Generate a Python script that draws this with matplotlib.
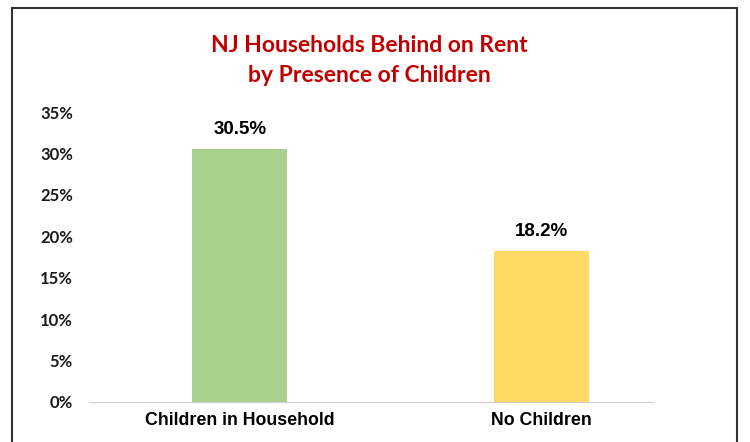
import matplotlib.pyplot as plt
from matplotlib.patches import Rectangle

# NJ households behind on rent, by presence of children
categories = ['Children in Household', 'No Children']
values = [30.5, 18.2]
colors = ['#A9D18E', '#FFD966']
yticks = [0, 5, 10, 15, 20, 25, 30, 35]

fig = plt.figure(figsize=(7.5, 4.42), dpi=100)
ax = fig.add_axes([0.1187, 0.0905, 0.752, 0.656])

x = list(range(len(categories)))
ax.bar(x, values, width=0.315, color=colors, zorder=2)

for xi, v in zip(x, values):
    ax.annotate('{:.1f}%'.format(v), (xi, v), xytext=(0, 8), textcoords='offset points',
                ha='center', va='bottom', fontsize=13.5, fontweight='bold',
                family='Liberation Sans', color='#000000')

ax.set_xlim(-0.5, 1.37)
ax.set_ylim(0, 35)
ax.set_yticks(yticks)
ax.set_yticklabels(['{}%'.format(t) for t in yticks], fontsize=12, fontweight='bold',
                   family='Lato', color='#1a1a1a')
ax.set_xticks(x)
ax.set_xticklabels(categories, fontsize=12.8, fontweight='bold', family='Liberation Sans')

for s in ['top', 'right', 'left']:
    ax.spines[s].set_visible(False)
ax.spines['bottom'].set_color('#d0d0d0')
ax.tick_params(axis='both', length=0)
ax.tick_params(axis='y', pad=11.5)
ax.tick_params(axis='x', pad=7)

fig.text(0.492, 0.897, 'NJ Households Behind on Rent', ha='center', va='center',
         fontsize=16.5, fontweight='bold', color='#C00000', family='Lato')
fig.text(0.492, 0.830, 'by Presence of Children', ha='center', va='center',
         fontsize=16.5, fontweight='bold', color='#C00000', family='Lato')

# frame round the chart (cut off at the bottom)
fig.add_artist(Rectangle((12 / 750, -0.05), 725 / 750, 1 - 8 / 442 + 0.05,
                         transform=fig.transFigure, fill=False,
                         edgecolor='#333333', linewidth=1.5))

fig.savefig('out.png', dpi=100)
